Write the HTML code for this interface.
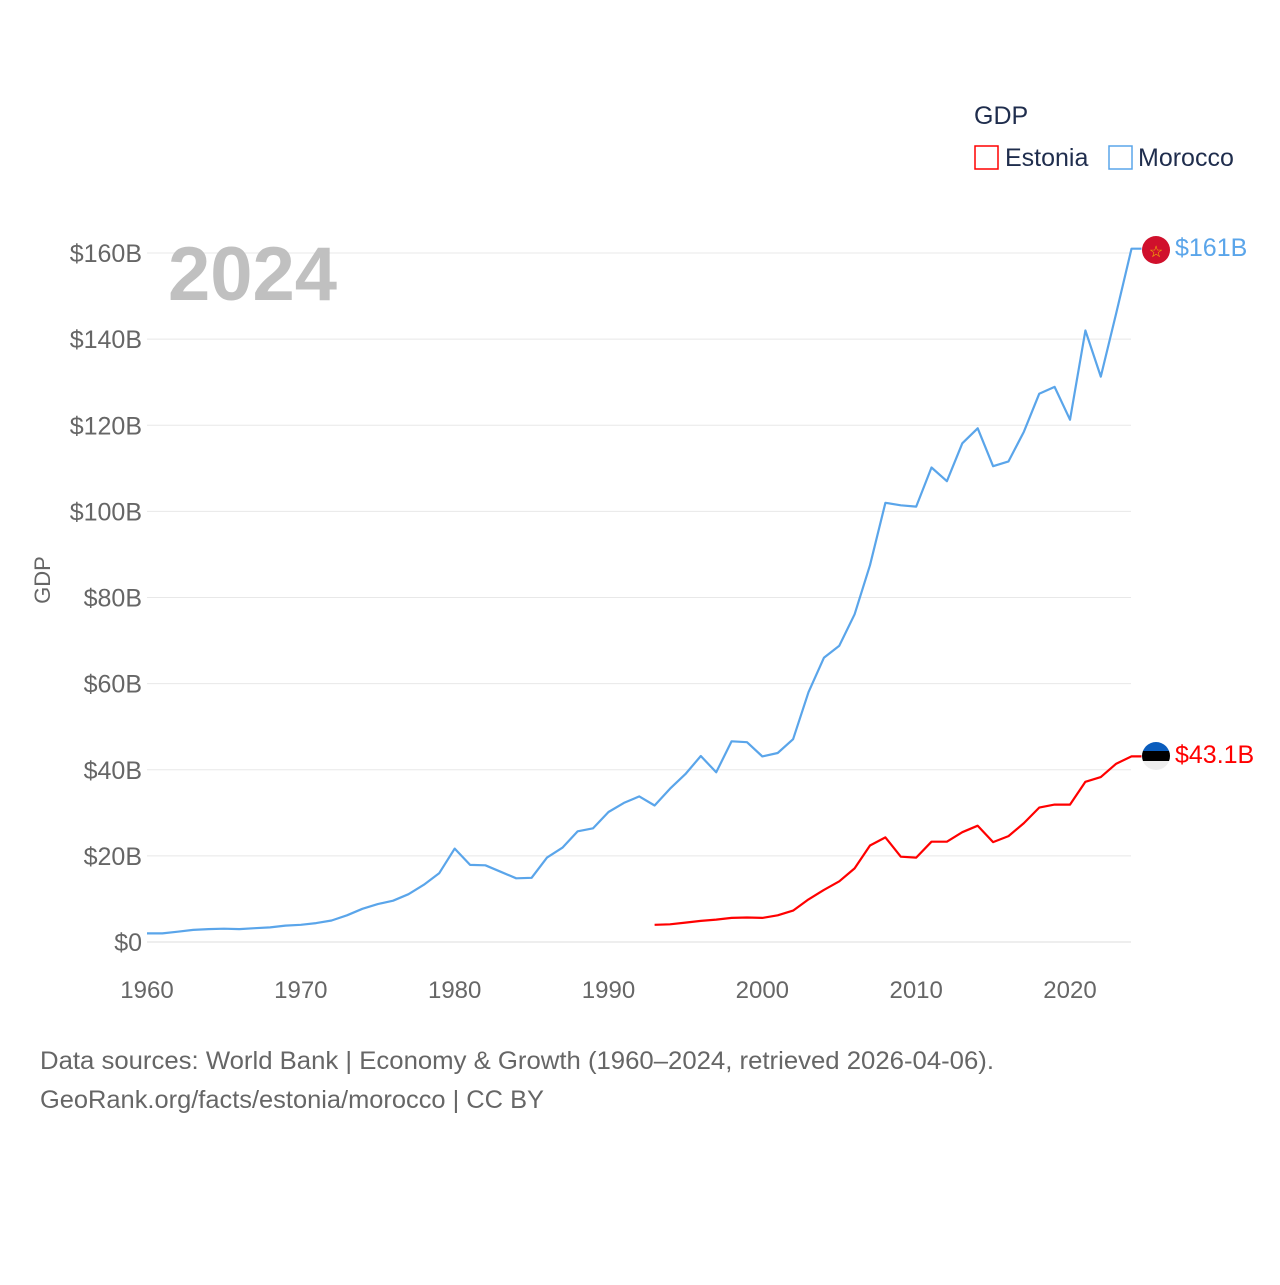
<!DOCTYPE html>
<html><head><meta charset="utf-8"><style>
body{margin:0;background:#fff;width:1280px;height:1280px;overflow:hidden;font-family:"Liberation Sans",sans-serif}
svg text{font-family:"Liberation Sans",sans-serif}
</style></head><body>
<svg id="chart" width="1280" height="1280" xmlns="http://www.w3.org/2000/svg">
<g id="grid"></g>
<g id="yticks"></g>
<g id="xticks"></g>
<text x="168" y="300" font-size="76" font-weight="bold" fill="#c0c0c0">2024</text>
<text transform="translate(50,580) rotate(-90)" text-anchor="middle" font-size="22" fill="#666">GDP</text>
<g id="series"></g>
<g>
<text x="974" y="124" font-size="25" fill="#1f2d4d">GDP</text>
<g><rect x="975" y="146" width="23" height="23" fill="none" stroke="#ff0000" stroke-width="1.5"/><text x="1005" y="166" font-size="25" fill="#1f2d4d">Estonia</text></g>
<g><rect x="1109" y="146" width="23" height="23" fill="none" stroke="#5aa5ea" stroke-width="1.5"/><text x="1138" y="166" font-size="25" fill="#1f2d4d">Morocco</text></g>
</g>
<g><circle cx="1156" cy="250" r="14" fill="#d0102c"/><text x="1156" y="257" text-anchor="middle" font-size="16" fill="#f5c400">☆</text></g>
<text x="1175" y="256" font-size="25" fill="#5aa5ea">$161B</text>
<g><clipPath id="ec"><circle cx="1156" cy="756" r="14"/></clipPath><g clip-path="url(#ec)"><rect x="1140" y="740" width="32" height="11" fill="#0a5cbc"/><rect x="1140" y="751" width="32" height="10" fill="#000"/><rect x="1140" y="761" width="32" height="11" fill="#eee"/></g></g>
<text x="1175" y="763" font-size="25" fill="#ff0000">$43.1B</text>
<text x="40" y="1069" font-size="25" fill="#666" textLength="954" lengthAdjust="spacingAndGlyphs">Data sources: World Bank | Economy &amp; Growth (1960–2024, retrieved 2026-04-06).</text>
<text x="40" y="1108" font-size="25" fill="#666" textLength="504" lengthAdjust="spacingAndGlyphs">GeoRank.org/facts/estonia/morocco | CC BY</text>
</svg>
<script>
const yTicks=[0,20,40,60,80,100,120,140,160];
const xTicks=[1960,1970,1980,1990,2000,2010,2020];
const moroccoYears=[];for(let y=1960;y<=2024;y++)moroccoYears.push(y);
const moroccoGDP=[2.0,2.0,2.4,2.8,3.0,3.1,3.0,3.2,3.4,3.8,4.0,4.4,5.0,6.2,7.7,8.8,9.6,11.1,13.3,16.0,21.7,17.9,17.8,16.3,14.8,14.9,19.6,21.9,25.7,26.4,30.2,32.3,33.8,31.7,35.6,39.0,43.2,39.4,46.6,46.4,43.1,43.9,47.1,58.0,66.0,68.8,76.1,87.5,102.0,101.4,101.1,110.2,107.0,115.8,119.3,110.5,111.6,118.5,127.3,128.9,121.3,142.0,131.3,146.0,161.0];
const estoniaYears=[];for(let y=1993;y<=2024;y++)estoniaYears.push(y);
const estoniaGDP=[4.0,4.1,4.5,4.9,5.2,5.6,5.7,5.6,6.2,7.3,9.9,12.1,14.1,17.1,22.4,24.3,19.8,19.6,23.3,23.3,25.5,27.0,23.2,24.6,27.6,31.2,31.9,31.9,37.2,38.3,41.4,43.1];
const X=y=>147+(y-1960)*923/60;
const Y=v=>942-v*689/160;
const NS="http://www.w3.org/2000/svg";
function mk(t,a,p){const e=document.createElementNS(NS,t);for(const k in a)e.setAttribute(k,a[k]);p.appendChild(e);return e;}
const grid=document.getElementById('grid'),yt=document.getElementById('yticks'),xt=document.getElementById('xticks'),ser=document.getElementById('series');
yTicks.forEach(v=>{
 const l=mk('line',{x1:147,x2:1131,y1:Y(v),y2:Y(v),stroke:v===0?'#dddddd':'#e8e8e8','stroke-width':1},grid);
 
 
 const t=mk('text',{x:142,y:Y(v)+9,'text-anchor':'end','font-size':25,fill:'#666'},yt);
 t.textContent='$'+v+(v?'B':'');
 
 
});
xTicks.forEach(y=>{
 const t=mk('text',{x:X(y),y:998,'text-anchor':'middle','font-size':24,fill:'#666'},xt);
 t.textContent=y;
 
 
});
function line(years,vals,color,name){
 let d=years.map((y,i)=>(i?'L':'M')+X(y).toFixed(1)+' '+Y(vals[i]).toFixed(1)).join(' ');
 d+=' L'+(X(years[years.length-1])+10).toFixed(1)+' '+Y(vals[vals.length-1]).toFixed(1);
 const p=mk('path',{d:d,fill:'none',stroke:color,'stroke-width':2.2,'stroke-linejoin':'round'},ser);
 
 
}
line(moroccoYears,moroccoGDP,'#5aa5ea','morocco-line');
line(estoniaYears,estoniaGDP,'#ff0000','estonia-line');
</script>
</body></html>
